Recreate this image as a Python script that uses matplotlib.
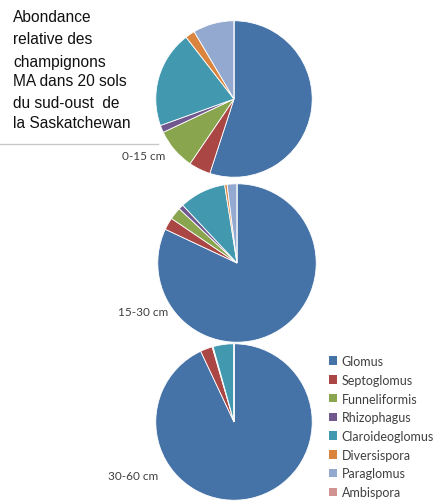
import numpy as np
import matplotlib.pyplot as plt
from matplotlib.patches import Patch
from matplotlib.lines import Line2D

# categories and colours
genera = ['Glomus', 'Septoglomus', 'Funneliformis', 'Rhizophagus',
          'Claroideoglomus', 'Diversispora', 'Paraglomus', 'Ambispora']
colors = ['#4572A7', '#AA4643', '#89A54E', '#71588F',
          '#4198AF', '#DB843D', '#93A9CF', '#D19392']

# relative abundance (%) per depth
depths = ['0-15 cm', '15-30 cm', '30-60 cm']
abund_0_15 = [55.0, 4.5, 8.5, 1.5, 20.0, 2.0, 8.5, 0.0]
abund_15_30 = [82.0, 2.5, 2.5, 1.0, 9.5, 0.5, 2.0, 0.0]
abund_30_60 = [93.0, 2.5, 0.2, 0.0, 4.3, 0.0, 0.0, 0.0]
all_abund = [abund_0_15, abund_15_30, abund_30_60]

title_lines = ['Abondance', 'relative des', 'champignons',
               'MA dans 20 sols', 'du sud-oust  de', 'la Saskatchewan']

W, H = 439, 502
fig = plt.figure(figsize=(W / 100, H / 100), dpi=100)
fig.patch.set_facecolor('white')

def px_axes(cx, cy, r):
    # pixel coords (y from top) -> figure fraction
    return fig.add_axes([(cx - r) / W, 1 - (cy + r) / H, 2 * r / W, 2 * r / H])

centers = [(234, 100, 79), (237, 264, 80), (234, 423, 79)]
label_pos = [(165, 157), (168, 313), (158, 477)]

for (cx, cy, r), vals, lab, (lx, ly) in zip(centers, all_abund, depths, label_pos):
    ax = px_axes(cx, cy, r)
    ax.pie(vals, colors=colors, startangle=90, counterclock=False,
           wedgeprops=dict(edgecolor='white', linewidth=0.6))
    ax.set_xlim(-1.01, 1.01)
    ax.set_ylim(-1.01, 1.01)
    ax.set_aspect('equal')
    ax.axis('off')
    fig.text(lx / W, 1 - ly / H, lab, ha='right', va='center',
             fontsize=8.5, color='#404040', family='Lato')

# title block
ys = [17, 39, 62, 82, 103, 123]
for line, y in zip(title_lines, ys):
    fig.text(13 / W, 1 - y / H, line, ha='left', va='center',
             fontsize=11.2, color='#111111', family='Liberation Sans')

fig.add_artist(Line2D([0, 158 / W], [1 - 145 / H, 1 - 145 / H],
                      color='#c8c8c8', linewidth=1.0))

handles = [Patch(facecolor=c, edgecolor='none') for c in colors]
leg = fig.legend(handles, genera, loc='upper left',
                 bbox_to_anchor=(329 / W, 1 - 356 / H), frameon=False,
                 handlelength=0.65, handleheight=0.65,
                 handletextpad=0.35, labelspacing=0.54, borderaxespad=0,
                 borderpad=0, prop={'family': 'Lato', 'size': 9})
for t in leg.get_texts():
    t.set_color('#404040')

fig.savefig('out.png', dpi=100)
